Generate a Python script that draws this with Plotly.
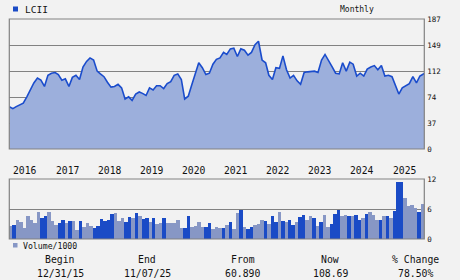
import pandas as pd
import plotly.graph_objects as go

# ---------------- data ----------------
price_dates = list(pd.date_range("2015-12-31", periods=119, freq="ME").strftime("%Y-%m-%d")) + ["2025-11-07"]
price_vals = [60.89, 58, 61, 64, 66, 75, 84, 95, 102, 99,
              90, 106, 109, 110, 107, 99, 101, 90, 103, 106,
              100, 118, 126, 131, 128, 112, 108, 104, 96, 89,
              90, 93, 88, 72, 75, 70, 79, 82, 80, 77,
              88, 85, 91, 91, 87, 94, 97, 106, 108, 100,
              72, 76, 92, 110, 124, 117, 107, 109, 122, 129,
              131, 139, 136, 144, 145, 133, 144, 142, 135, 139,
              150, 155, 128, 124, 106, 100, 117, 116, 134, 114,
              102, 106, 98, 93, 110, 111, 111, 112, 110, 128,
              136, 128, 118, 109, 108, 124, 112, 125, 122, 105,
              109, 105, 115, 118, 120, 114, 120, 105, 106, 104,
              91, 79, 88, 91, 94, 104, 95, 105, 108, 108.69]

volume_k = [2.6, 2.8, 3.8, 3.4, 2.2, 4.6, 3.8, 3.2, 5.4, 4.2,
            4.6, 5.4, 3.6, 2.8, 3.2, 3.8, 3.2, 3.6, 3.6, 1.8,
            3.6, 2.4, 3.2, 2.6, 2.2, 2.6, 4.0, 3.6, 3.8, 5.0,
            5.2, 3.6, 4.2, 3.4, 4.4, 4.2, 5.2, 4.6, 4.0, 4.2,
            3.4, 4.2, 3.0, 3.2, 4.2, 3.2, 3.2, 3.2, 3.8, 2.2,
            2.2, 4.6, 2.4, 2.6, 3.4, 2.4, 2.4, 3.2, 2.0, 2.4,
            2.2, 2.2, 2.8, 3.4, 2.0, 5.2, 5.8, 2.4, 2.0, 2.4,
            2.8, 3.0, 3.8, 3.6, 3.0, 4.6, 3.4, 5.4, 3.6, 3.4,
            3.8, 2.8, 3.4, 4.4, 4.8, 3.8, 4.6, 4.2, 2.6, 3.4,
            4.8, 2.4, 3.0, 5.0, 5.8, 4.6, 4.8, 4.6, 4.6, 4.8,
            3.8, 4.2, 5.0, 5.4, 4.8, 3.8, 3.8, 4.6, 4.6, 4.2,
            5.6, 11.4, 11.4, 8.2, 6.6, 6.8, 6.2, 5.4, 7.0]
vol_up = "LDLLLLLLLDDLLLDDLDLLDLLLDDDDDDLLLDDLDLD" \
         "DLDLLDLLLLLDDLLLLDDLLLDLDLLDLDDLLLDLDDL" \
         "DLDDLDDLLDLDLLDDDLLDLDDLDLLLDLDLDDDLLLLDL"
vol_months = list(range(len(volume_k)))

price_ticks = [0, 37, 74, 112, 149, 187]
vol_ticks = [0, 6, 12]
year_labels = [str(y) for y in range(2016, 2026)]

summary_heads = ["Begin", "End", "From", "Now", "% Change"]
summary_vals = ["12/31/15", "11/07/25", "60.890", "108.69", "78.50%"]

# ---------------- style ----------------
BG = "#f2f2f2"
FRAME = "#828282"
LINE = "#1a4ccc"
FILL = "#9cafdc"
DARK = "#1a4bc6"
LIGHT = "#8797c5"
FONT = "DejaVu Sans Mono"
W, H = 460, 280

def px(x):
    return x / W

def py(y):
    return 1 - y / H

x0, x1 = px(9.3), px(424.3)

fig = go.Figure()
fig.add_trace(go.Scatter(x=price_dates, y=price_vals, mode="lines",
                         line=dict(color=LINE, width=1.6), fill="tozeroy",
                         fillcolor=FILL, xaxis="x", yaxis="y", hoverinfo="skip"))
fig.add_trace(go.Bar(x=vol_months, y=volume_k,
                     marker=dict(color=[DARK if c == "D" else LIGHT for c in vol_up], line=dict(width=0)),
                     xaxis="x2", yaxis="y2", hoverinfo="skip"))

ax_common = dict(showline=False, zeroline=False, automargin=False, fixedrange=True)
fig.update_layout(
    width=W, height=H, margin=dict(l=0, r=0, t=0, b=0),
    paper_bgcolor=BG, plot_bgcolor=BG, showlegend=False, bargap=0,
    font=dict(family=FONT, color="#111111"),
    xaxis=dict(domain=[x0, x1], type="date", range=["2015-12-31", "2025-11-07"],
               showticklabels=False, showgrid=False, anchor="y", **ax_common),
    yaxis=dict(domain=[py(149), py(19)], range=[0, 187], tickvals=price_ticks,
               side="right", showgrid=True, gridcolor=FRAME, gridwidth=1, ticklabelstandoff=2,
               tickfont=dict(size=7.5, family=FONT, color="#111"), ticks="", anchor="x", **ax_common),
    xaxis2=dict(domain=[x0, x1], range=[-0.5, len(volume_k) - 0.5], showticklabels=False,
                showgrid=False, anchor="y2", **ax_common),
    yaxis2=dict(domain=[py(239), py(179)], range=[0, 12], tickvals=vol_ticks,
                side="right", showgrid=True, gridcolor=FRAME, gridwidth=1, ticklabelstandoff=2,
                tickfont=dict(size=7.5, family=FONT, color="#111"), ticks="", anchor="x2", **ax_common),
)

shapes = []
for top, bot in [(19, 149), (179, 239)]:
    shapes.append(dict(type="rect", xref="paper", yref="paper", x0=x0, x1=x1,
                       y0=py(bot), y1=py(top), line=dict(color=FRAME, width=1.2), layer="above"))
# legend squares
shapes.append(dict(type="rect", xref="paper", yref="paper", x0=px(13), x1=px(18),
                   y0=py(11.5), y1=py(6.5), fillcolor=DARK, line=dict(width=0)))
shapes.append(dict(type="rect", xref="paper", yref="paper", x0=px(13), x1=px(17.5),
                   y0=py(247.5), y1=py(243), fillcolor=LIGHT, line=dict(width=0)))
fig.update_layout(shapes=shapes)

ann = []
ann.append(dict(text="LCII", x=px(22.5), y=py(9), xref="paper", yref="paper",
                xanchor="left", yanchor="middle", showarrow=False, font=dict(size=9.5)))
ann.append(dict(text="Monthly", x=px(357), y=py(9), xref="paper", yref="paper",
                xanchor="center", yanchor="middle", showarrow=False, font=dict(size=8)))
ann.append(dict(text="Volume/1000", x=px(20.5), y=py(245.5), xref="paper", yref="paper",
                xanchor="left", yanchor="middle", showarrow=False, font=dict(size=8.2)))
for yl in year_labels:
    ann.append(dict(text=yl, x=f"{yl}-01-01", y=py(170), xref="x", yref="paper",
                    xanchor="left", yanchor="middle", xshift=2, showarrow=False, font=dict(size=9.7)))
centers = [60, 147, 243, 330, 415]
for cx, h, v in zip(centers, summary_heads, summary_vals):
    ann.append(dict(text=h, x=px(cx), y=py(259), xref="paper", yref="paper",
                    xanchor="center", yanchor="middle", showarrow=False, font=dict(size=9.8)))
    ann.append(dict(text=v, x=px(cx), y=py(273), xref="paper", yref="paper",
                    xanchor="center", yanchor="middle", showarrow=False, font=dict(size=9.8)))
fig.update_layout(annotations=ann)

fig.write_html("out.html")
